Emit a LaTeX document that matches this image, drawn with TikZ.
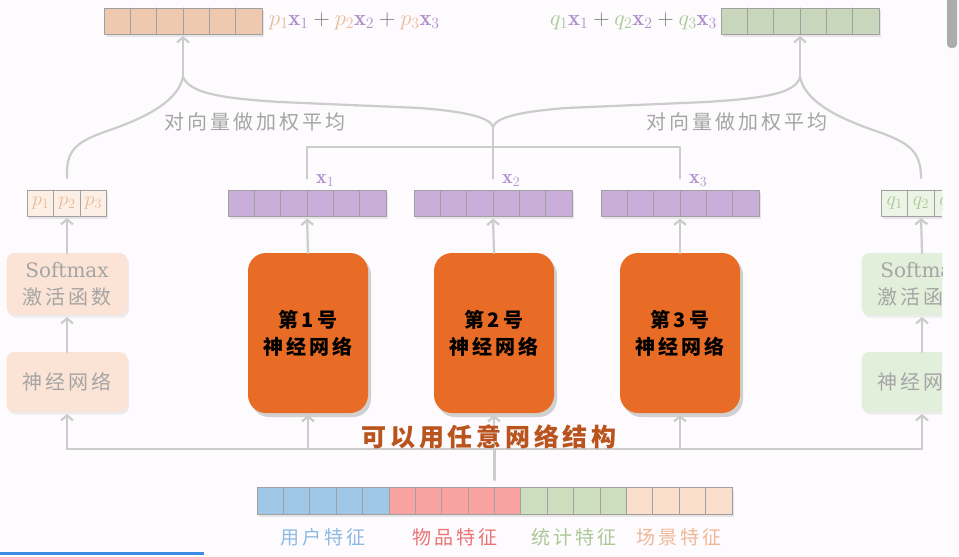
\RequirePackage{fix-cm}
\documentclass[tikz,border=0pt]{standalone}
\usepackage{fontspec}
\usepackage{amsmath}
\newfontfamily\cjk{Noto Sans CJK SC}[LetterSpace=15]
\newfontfamily\latinserif{DejaVu Serif}
\usetikzlibrary{arrows.meta,shadows}

\definecolor{bgC}{RGB}{253,251,253}
\definecolor{lineC}{RGB}{204,204,204}
\definecolor{cellC}{RGB}{160,160,160}
\definecolor{peachC}{RGB}{238,200,175}
\definecolor{greenC}{RGB}{200,214,188}
\definecolor{purpleC}{RGB}{201,174,217}
\definecolor{peachL}{RGB}{252,239,229}
\definecolor{greenL}{RGB}{236,244,230}
\definecolor{peachBox}{RGB}{251,228,213}
\definecolor{greenBox}{RGB}{226,239,218}
\definecolor{orangeC}{RGB}{233,108,38}
\definecolor{capC}{RGB}{186,84,30}
\definecolor{greyTxt}{RGB}{165,165,165}
\definecolor{pTxt}{RGB}{234,186,150}
\definecolor{qTxt}{RGB}{170,200,152}
\definecolor{xTxt}{RGB}{176,144,204}
\definecolor{plusC}{RGB}{120,120,120}
\definecolor{fBlue}{RGB}{161,199,231}
\definecolor{fRed}{RGB}{248,162,162}
\definecolor{fGreen}{RGB}{205,222,190}
\definecolor{fPeach}{RGB}{250,222,204}
\definecolor{tBlue}{RGB}{140,186,226}
\definecolor{tRed}{RGB}{234,115,115}
\definecolor{tGreen}{RGB}{172,200,150}
\definecolor{tPeach}{RGB}{238,184,150}
\definecolor{barBlue}{RGB}{60,140,230}

\newcommand{\pls}{\mathbin{\textcolor{plusC}{+}}}

\tikzset{
  conn/.style={draw=lineC, line width=2.2pt},
  arr/.style={conn, -{Straight Barb[length=5pt,width=12pt]}, shorten >=2pt},
  vecbox/.style={draw=cellC, line width=0.9pt, minimum height=26pt, inner sep=0pt, outer sep=0pt,
    drop shadow={opacity=0.18, shadow xshift=1.5pt, shadow yshift=-2.5pt}},
  cellline/.style={draw=cellC, line width=0.9pt},
  gatebox/.style={rounded corners=8pt, minimum width=121pt, inner sep=0pt, outer sep=0pt,
    text=greyTxt, align=center, drop shadow={opacity=0.12, shadow xshift=1.5pt, shadow yshift=-2.5pt}},
  netbox/.style={rounded corners=18pt, fill=orangeC, minimum width=120pt, minimum height=160pt,
    inner sep=0pt, outer sep=0pt, align=center, text=black,
    font=\cjk\bfseries\fontsize{20}{27}\selectfont,
    drop shadow={opacity=0.35, shadow xshift=3pt, shadow yshift=-4pt}},
  avglab/.style={text=greyTxt, font=\cjk\fontsize{20}{24}\selectfont},
  featlab/.style={font=\cjk\fontsize{19}{22}\selectfont},
  xlab/.style={text=xTxt, font=\fontsize{20}{22}\selectfont, inner sep=0pt},
  cellab/.style={font=\fontsize{20}{22}\selectfont, inner sep=0pt},
  sumlab/.style={inner sep=0pt, font=\fontsize{22.5}{25}\selectfont},
}

\begin{document}
\begin{tikzpicture}[x=1pt, y=-1pt, line cap=round, line join=round]

  \fill[bgC] (0,0) rectangle (959,557);

  \begin{scope}
  % 右边被截屏裁掉
  \clip (0,0) rectangle (942,557);

  %% ════ 顶部：加权平均后的向量 ════
  \node[vecbox, fill=peachC, minimum width=158pt] (vP) at (183,21) {};
  \node[vecbox, fill=greenC, minimum width=158pt] (vQ) at (800,21) {};
  \node[sumlab, anchor=west] (sumP) at (269,21)
    {$\textcolor{pTxt}{p_1}\textcolor{xTxt}{\mathbf{x}_1}\pls\textcolor{pTxt}{p_2}\textcolor{xTxt}{\mathbf{x}_2}\pls\textcolor{pTxt}{p_3}\textcolor{xTxt}{\mathbf{x}_3}$};
  \node[sumlab, anchor=east] (sumQ) at (717,21)
    {$\textcolor{qTxt}{q_1}\textcolor{xTxt}{\mathbf{x}_1}\pls\textcolor{qTxt}{q_2}\textcolor{xTxt}{\mathbf{x}_2}\pls\textcolor{qTxt}{q_3}\textcolor{xTxt}{\mathbf{x}_3}$};

  %% ════ 三个专家的输出 x1 x2 x3 + 两个门控输出 ════
  \node[vecbox, fill=purpleC, minimum width=158pt] (vX1) at (307,203.5) {};
  \node[vecbox, fill=purpleC, minimum width=158pt] (vX2) at (493,203.5) {};
  \node[vecbox, fill=purpleC, minimum width=158pt] (vX3) at (680,203.5) {};
  \node[vecbox, fill=peachL, minimum width=79pt] (vPs) at (67,203) {};
  \node[vecbox, fill=greenL, minimum width=79pt] (vQs) at (921,203) {};

  \foreach \v in {vP,vQ,vX1,vX2,vX3}
    \foreach \i in {1,...,5}
      \draw[cellline] ([xshift=\i*26.33pt]\v.north west) -- ([xshift=\i*26.33pt]\v.south west);
  \foreach \v in {vPs,vQs}
    \foreach \i in {1,2}
      \draw[cellline] ([xshift=\i*26.33pt]\v.north west) -- ([xshift=\i*26.33pt]\v.south west);

  \foreach \i in {1,2,3} {
    \node[cellab, text=pTxt] (pl\i) at ([xshift={(\i-0.5)*26.33pt}]vPs.west) {$p_\i$};
    \node[cellab, text=qTxt] (ql\i) at ([xshift={(\i-0.5)*26.33pt}]vQs.west) {$q_\i$};
  }

  \node[xlab, anchor=base west] (lx1) at ([xshift=9pt,yshift=7pt]vX1.north) {$\mathbf{x}_1$};
  \node[xlab, anchor=base west] (lx2) at ([xshift=9pt,yshift=7pt]vX2.north) {$\mathbf{x}_2$};
  \node[xlab, anchor=base west] (lx3) at ([xshift=9pt,yshift=7pt]vX3.north) {$\mathbf{x}_3$};

  %% ════ 门控网络（左右两侧）════
  \node[gatebox, fill=peachBox, minimum height=62pt, font=\latinserif\fontsize{20}{27}\selectfont] (smP) at (67,284)
    {Softmax\\\cjk 激活函数};
  \node[gatebox, fill=peachBox, minimum height=60pt, font=\cjk\fontsize{20}{24}\selectfont] (nnP) at (67,382)
    {神经网络};
  \node[gatebox, fill=greenBox, minimum height=62pt, font=\latinserif\fontsize{20}{27}\selectfont] (smQ) at (922,284)
    {Softmax\\\cjk 激活函数};
  \node[gatebox, fill=greenBox, minimum height=60pt, font=\cjk\fontsize{20}{24}\selectfont] (nnQ) at (922,382)
    {神经网络};

  %% ════ 专家网络 ════
  \node[netbox] (net1) at (308,333) {第1号\\神经网络};
  \node[netbox] (net2) at (494,333) {第2号\\神经网络};
  \node[netbox] (net3) at (680,333) {第3号\\神经网络};

  %% ════ 底部特征向量 ════
  \node[vecbox, minimum width=475pt, minimum height=27pt] (feat) at (494.5,500.5) {};
  \foreach \c [count=\i from 0] in {fBlue,fBlue,fBlue,fBlue,fBlue,fRed,fRed,fRed,fRed,fRed,
      fGreen,fGreen,fGreen,fGreen,fPeach,fPeach,fPeach,fPeach}
    \draw[cellline, fill=\c] ([xshift=\i*26.39pt]feat.north west) rectangle ++(26.39pt,-27pt);

  \node[featlab, text=tBlue]  (fu) at (323,537) {用户特征};
  \node[featlab, text=tRed]   (fi) at (455,537) {物品特征};
  \node[featlab, text=tGreen] (fs) at (574,537) {统计特征};
  \node[featlab, text=tPeach] (fc) at (679,537) {场景特征};

  %% ════ 连线 ════
  \coordinate (busY) at (0,449);
  \draw[conn] ([yshift=7pt]feat.north) -- (feat.north |- busY);
  \draw[conn] (nnP.south |- busY) -- (nnQ.south |- busY);
  \foreach \b in {nnP,net1,net2,net3,nnQ}
    \draw[arr] (\b.south |- busY) -- (\b.south);
  \draw[arr] (nnP.north) -- (smP.south);
  \draw[arr] (nnQ.north) -- (smQ.south);
  \draw[arr] (smP.north) -- (vPs.south);
  \draw[arr] (smQ.north) -- (vQs.south);
  \draw[arr] (net1.north) -- (vX1.south);
  \draw[arr] (net2.north) -- (vX2.south);
  \draw[arr] (net3.north) -- (vX3.south);

  \node[text=capC, font=\cjk\bfseries\fontsize{25}{28}\selectfont] (cap) at (489,437) {可以用任意网络结构};

  % x1/x3 的横梁，x2 直通到两个花括号的交点
  \coordinate (tx1) at ([yshift=12pt]vX1.north);
  \coordinate (tx2) at ([yshift=12pt]vX2.north);
  \coordinate (tx3) at ([yshift=12pt]vX3.north);
  \coordinate (barY) at (0,147);
  \coordinate (jn) at (493,127);
  \draw[conn] (tx1) -- (tx1 |- barY) -- (tx3 |- barY) -- (tx3);
  \draw[conn] (tx2) -- (jn);

  % 两个花括号
  \coordinate (tipP) at (183,77);
  \coordinate (tipQ) at (800,77);
  \coordinate (endP) at ([yshift=12pt]vPs.north);
  \coordinate (endQ) at ([yshift=12pt]vQs.north);
  \draw[conn] (endP) .. controls (66,150) and (75,142) .. (110,130)
    .. controls (150,116) and (178,100) .. (tipP)
    .. controls (190,92) and (215,98) .. (280,102) -- (420,108)
    .. controls (470,112) and (490,118) .. (jn);
  \draw[conn] (jn) .. controls (496,118) and (516,112) .. (566,108) -- (706,102)
    .. controls (771,98) and (796,92) .. (tipQ)
    .. controls (805,100) and (833,116) .. (873,130)
    .. controls (908,142) and (921,150) .. (endQ);
  \draw[arr] (tipP) -- (vP.south);
  \draw[arr] (tipQ) -- (vQ.south);

  \node[avglab] (avgP) at (255,122) {对向量做加权平均};
  \node[avglab] (avgQ) at (737,122) {对向量做加权平均};
  \end{scope}

  % 截屏残留：滚动条、进度条
  \fill[gray!65, rounded corners=4pt] (947,-6) rectangle (957,48);
  \fill[barBlue] (0,552) rectangle (204,555);

  \pgfresetboundingbox
  \path[use as bounding box] (0,0) rectangle (959,557);
\end{tikzpicture}
\end{document}
